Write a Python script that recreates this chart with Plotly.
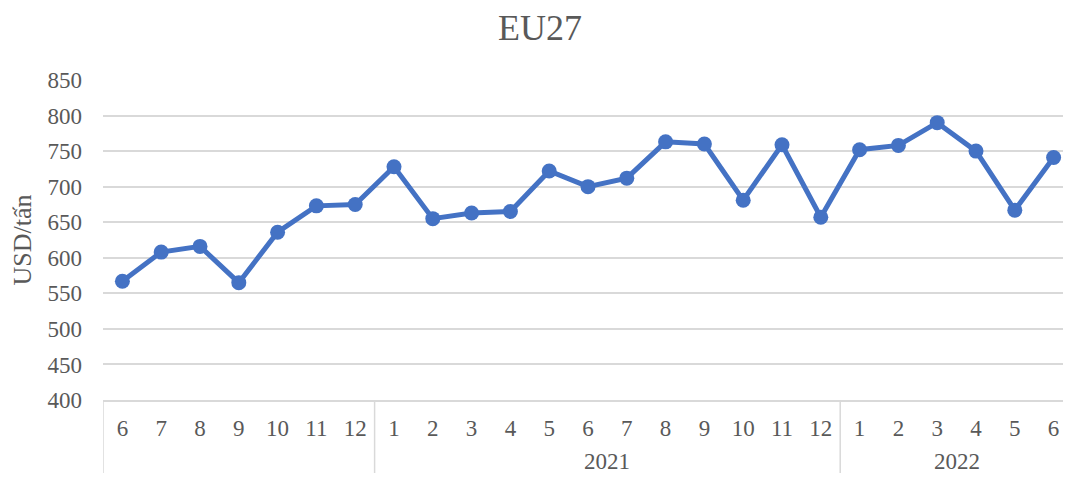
import plotly.graph_objects as go

years = ["", "2021", "2022"]
year_counts = [7, 12, 6]
months = ["6", "7", "8", "9", "10", "11", "12",
          "1", "2", "3", "4", "5", "6", "7", "8", "9", "10", "11", "12",
          "1", "2", "3", "4", "5", "6"]
prices = [567, 608, 616, 565, 636, 673, 675,
          728, 655, 663, 665, 722, 700, 712, 763, 760, 681, 759, 657,
          752, 758, 790, 750, 667, 741]

TEXT = "#595959"
GRID = "#D9D9D9"
FONT = "Liberation Serif, Times New Roman, serif"

xs = list(range(len(months)))

fig = go.Figure(go.Scatter(
    x=xs, y=prices, mode="lines+markers",
    line=dict(color="#4472C4", width=5),
    marker=dict(color="#4472C4", size=15),
    showlegend=False, cliponaxis=False,
))

W, H = 1063, 465   # page body has an 8px margin; keep page from scrolling
PLOT_H = 320
TOP = 72
BOTTOM = H - TOP - PLOT_H
LEFT, RIGHT = 95, 8
STEP = 38.8
x_end = -0.5 + (W - LEFT - RIGHT) / STEP

start = 0
shapes = []
annotations = []
for yr, n in zip(years, year_counts):
    x0 = start - 0.5
    x1 = start + n - 0.5
    shapes.append(dict(type="line", xref="x", yref="paper", x0=x0, x1=x0,
                       y0=0, y1=-BOTTOM / PLOT_H, line=dict(color=GRID, width=1.5)))
    if yr:
        annotations.append(dict(text=yr, xref="x", yref="paper", x=(x0 + x1) / 2,
                                y=-61 / PLOT_H, yanchor="middle", showarrow=False,
                                font=dict(size=23, color=TEXT, family=FONT)))
    start += n

fig.update_layout(
    width=W, height=H,
    margin=dict(l=LEFT, r=RIGHT, t=TOP, b=BOTTOM, autoexpand=False),
    paper_bgcolor="white", plot_bgcolor="white",
    font=dict(family=FONT, color=TEXT, size=23),
    title=dict(text="EU27", x=0.5005, xref="container", xanchor="center",
               y=1 - 19 / H, yref="container", yanchor="middle",
               font=dict(size=36, color=TEXT, family=FONT)),
    shapes=shapes, annotations=annotations,
)
fig.update_xaxes(
    range=[-0.5, x_end], tickmode="array", tickvals=xs, ticktext=months,
    showgrid=False, showline=True, linecolor=GRID, linewidth=1.5,
    zeroline=False, ticks="", ticklabelstandoff=7, automargin=False,
    tickfont=dict(size=23, color=TEXT, family=FONT),
)
fig.update_yaxes(
    range=[400, 850], dtick=50, showgrid=True, gridcolor=GRID, gridwidth=1.5,
    zeroline=False, showline=False, ticklabelstandoff=20, automargin=False,
    tickfont=dict(size=23, color=TEXT, family=FONT),
    title=dict(text="USD/tấn", font=dict(size=26, color=TEXT, family=FONT), standoff=8),
)

fig.write_html("out.html")
